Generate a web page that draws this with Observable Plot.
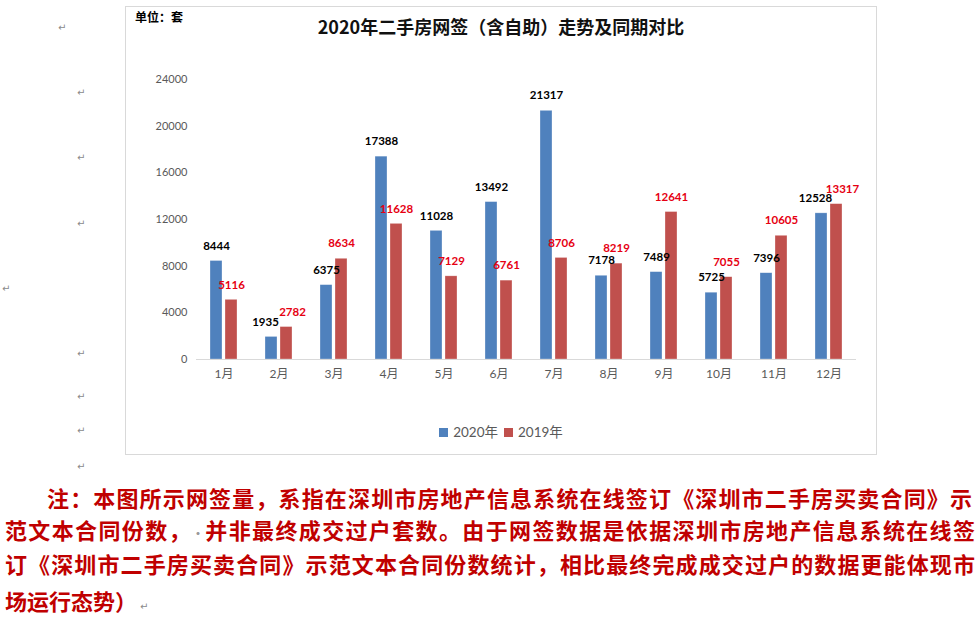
<!DOCTYPE html>
<html><head><meta charset="utf-8">
<script src="https://cdn.jsdelivr.net/npm/d3@7"></script>
<script src="https://cdn.jsdelivr.net/npm/@observablehq/plot@0.6"></script>
<style>
body{margin:0;background:#fff;}
#page{position:relative;width:978px;height:622px;overflow:hidden;font-family:"Noto Sans CJK SC",sans-serif;}
#box{position:absolute;left:125px;top:6px;width:750px;height:447px;border:1px solid #d9d9d9;}
#chart{position:absolute;left:126px;top:7px;}
.abs{position:absolute;white-space:nowrap;}
#title{left:126px;width:750px;top:13px;line-height:26px;text-align:center;font-size:18px;font-weight:700;color:#111;}
#unit{left:135px;top:9px;line-height:16px;font-size:12px;font-weight:700;color:#000;}
#legend{left:126px;width:750px;top:423px;line-height:18px;text-align:center;font-family:Lato,"Noto Sans CJK SC",sans-serif;font-size:13.5px;color:#595959;}
#legend span.sw{display:inline-block;width:9px;height:9px;margin-right:5px;vertical-align:0px;}
#legend span.it{margin:0 3px;}
.pm{position:absolute;font-family:"DejaVu Sans",sans-serif;font-size:10px;color:#8a8a8a;line-height:12px;}
.note{position:absolute;font-size:22px;font-weight:700;color:#c00000;line-height:30px;white-space:nowrap;}
.just{text-align:justify;text-align-last:justify;white-space:normal;}
</style></head>
<body><div id="page">
<div id="box"></div>
<div id="chart"></div>
<div class="abs" id="title"></div>
<div class="abs" id="unit"></div>
<div class="abs" id="legend"></div>
<div id="notes"></div>
<div id="marks"></div>
</div>
<script>
const months = ["1月","2月","3月","4月","5月","6月","7月","8月","9月","10月","11月","12月"];
const series = ["2020年","2019年"];
const v2020 = [8444,1935,6375,17388,11028,13492,21317,7178,7489,5725,7396,12528];
const v2019 = [5116,2782,8634,11628,7129,6761,8706,8219,12641,7055,10605,13317];
const yTicks = [0,4000,8000,12000,16000,20000,24000];
const barColors = ["#4f81bd","#c0504d"];
const labelColors = ["#000000","#e60012"];
const titleText = "2020年二手房网签（含自助）走势及同期对比";
const unitText = "单位：套";
const noteLines = [
  "注：本图所示网签量，系指在深圳市房地产信息系统在线签订《深圳市二手房买卖合同》示",
  "范文本合同份数，<span style=\"color:#999;font-size:12px\">•</span>并非最终成交过户套数。由于网签数据是依据深圳市房地产信息系统在线签",
  "订《深圳市二手房买卖合同》示范文本合同份数统计，相比最终完成成交过户的数据更能体现市",
  "场运行态势）"
];

const data = months.flatMap((m, i) => [
  {month: m, series: series[0], value: v2020[i]},
  {month: m, series: series[1], value: v2019[i]}
]);

document.getElementById("title").textContent = titleText;
document.getElementById("unit").textContent = unitText;
document.getElementById("legend").innerHTML = series.map((s, i) =>
  `<span class="it"><span class="sw" style="background:${barColors[i]}"></span>${s}</span>`).join("");

// Layout rule: when the two labels of a month sit at nearly the same height, push them apart sideways
const plotH = 280, yMax = 24000;
const closeMonths = new Set(months.filter((m, i) => Math.abs(v2020[i] - v2019[i]) * plotH / yMax < 11));

const chart = Plot.plot({
  width: 750, height: 380,
  marginTop: 72, marginBottom: 28, marginLeft: 69, marginRight: 20,
  style: {fontFamily: "Lato, 'Noto Sans CJK SC', sans-serif", fontSize: "11px", color: "#595959", background: "transparent"},
  fx: {domain: months, padding: 0, label: null, tickSize: 0, tickPadding: 10, axis: "bottom"},
  x: {domain: series, axis: null, paddingInner: 0.19, paddingOuter: 0.85},
  y: {domain: [0, yMax], ticks: yTicks, tickSize: 0, tickPadding: 9, label: null, tickFormat: d => String(d)},
  color: {domain: series, range: barColors},
  marks: [
    Plot.barY(data, {fx: "month", x: "series", y: "value", fill: "series", stroke: "#ffffff", strokeOpacity: 0.5, strokeWidth: 0.6}),
    Plot.ruleY([0], {stroke: "#d9d9d9", strokeWidth: 1}),
    ...series.flatMap((s, i) => [false, true].map(close => Plot.text(
      data.filter(d => d.series === s && closeMonths.has(d.month) === close), {
      fx: "month", x: "series", y: "value", text: d => String(d.value),
      dy: -15, dx: close ? (i === 0 ? -6 : 6) : 0,
      fill: labelColors[i], fontWeight: "bold", fontSize: 11.5
    })))
  ]
});
document.getElementById("chart").appendChild(chart);
d3.select(chart).selectAll('[aria-label="fx-axis tick label"] text, [aria-label="fx-axis tick label"]').attr("font-size", 12);

// note lines
const notePos = [
  {left: 47, width: 925, top: 482, just: true},
  {left: 5, width: 970, top: 514, just: true},
  {left: 5, width: 970, top: 548, just: true},
  {left: 5, width: 400, top: 585, just: false}
];
const notes = document.getElementById("notes");
noteLines.forEach((t, i) => {
  const d = document.createElement("div");
  d.className = "note" + (notePos[i].just ? " just" : "");
  d.style.left = notePos[i].left + "px";
  d.style.top = notePos[i].top + "px";
  if (notePos[i].just) d.style.width = notePos[i].width + "px";
  d.innerHTML = t + (i === 3 ? '<span style="font-family:DejaVu Sans;font-size:10px;color:#8a8a8a;font-weight:400;margin-left:3px">↵</span>' : "");
  notes.appendChild(d);
});

// paragraph marks
const pmPos = [[58,22],[77,87],[77,152],[77,218],[2,283],[77,348],[77,391],[77,425],[77,461]];
const marks = document.getElementById("marks");
pmPos.forEach(([x, y]) => {
  const s = document.createElement("span");
  s.className = "pm"; s.textContent = "↵";
  s.style.left = x + "px"; s.style.top = y + "px";
  marks.appendChild(s);
});
</script>
</body></html>
